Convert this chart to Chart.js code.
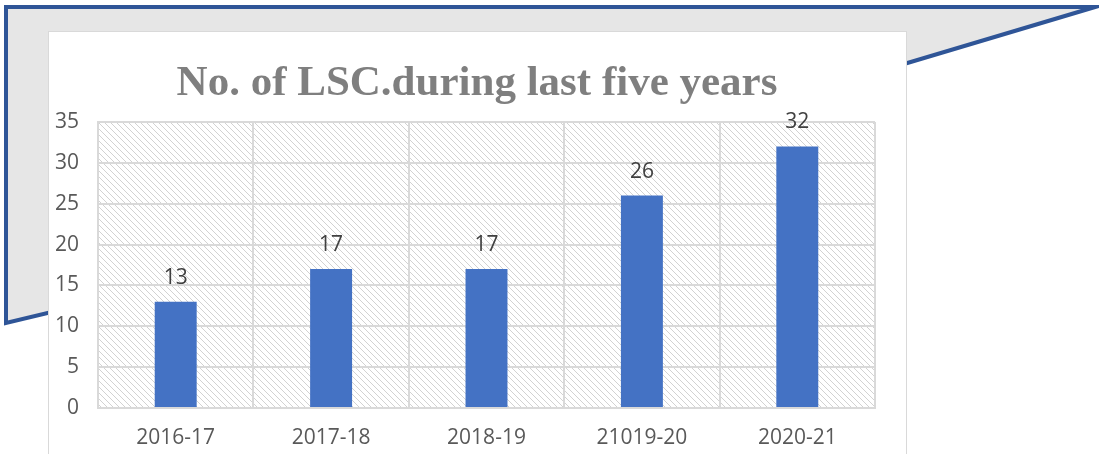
<!DOCTYPE html>
<html>
<head>
<meta charset="utf-8">
<script src="https://cdn.jsdelivr.net/npm/chart.js@4.4.0/dist/chart.umd.min.js"></script>
<style>
  html, body { margin: 0; padding: 0; background: #ffffff; }
  #wrap { position: relative; width: 1099px; height: 454px; }
</style>
</head>
<body>
<div id="wrap"><canvas id="grafica" width="1099" height="454"></canvas></div>
<script>
// datos del gráfico
const anios = ['2016-17', '2017-18', '2018-19', '21019-20', '2020-21'];
const cantidades = [13, 17, 17, 26, 32];
const titulo = 'No. of LSC.during last five years';
const ejeY = { min: 0, max: 35, paso: 5 };

// patrón de rayas diagonales para el fondo del área de trazado
function crearRayado() {
  const c = document.createElement('canvas');
  c.width = 6; c.height = 6;
  const g = c.getContext('2d');
  g.fillStyle = '#ffffff';
  g.fillRect(0, 0, 6, 6);
  g.fillStyle = '#d2d2d2';
  for (let i = 0; i < 6; i++) {
    g.fillRect(i, i, 1, 1);
  }
  return g.createPattern(c, 'repeat');
}

// fondo: banner gris con borde azul y caja blanca
const fondo = {
  id: 'fondo',
  beforeDraw(chart) {
    const ctx = chart.ctx;
    ctx.save();
    ctx.fillStyle = '#ffffff';
    ctx.fillRect(0, 0, chart.width, chart.height);

    ctx.beginPath();
    ctx.moveTo(6, 7);
    ctx.lineTo(1095, 7);
    ctx.lineTo(800, 95);
    ctx.lineTo(800, 300);
    ctx.lineTo(60, 310);
    ctx.lineTo(6, 323);
    ctx.closePath();
    ctx.fillStyle = '#e6e6e6';
    ctx.fill();
    ctx.lineWidth = 4;
    ctx.lineJoin = 'miter';
    ctx.strokeStyle = '#2f5597';
    ctx.stroke();

    ctx.fillStyle = '#ffffff';
    ctx.fillRect(48, 31, 859, 430);
    ctx.strokeStyle = '#d9d9d9';
    ctx.lineWidth = 1;
    ctx.strokeRect(48.5, 31.5, 858, 430);

    // título
    ctx.fillStyle = '#7f7f7f';
    ctx.font = 'bold 43px "Liberation Serif"';
    ctx.textAlign = 'center';
    ctx.textBaseline = 'alphabetic';
    ctx.fillText(titulo, 477, 95);

    // rayado del área de trazado
    const a = chart.chartArea;
    ctx.fillStyle = crearRayado();
    ctx.fillRect(a.left, a.top, a.right - a.left, a.bottom - a.top);
    ctx.restore();
  }
};

// etiquetas de valor encima de cada barra
const etiquetas = {
  id: 'etiquetas',
  afterDatasetsDraw(chart) {
    const ctx = chart.ctx;
    const meta = chart.getDatasetMeta(0);
    ctx.save();
    ctx.fillStyle = '#404040';
    ctx.font = '21px "Open Sans"';
    ctx.textAlign = 'center';
    ctx.textBaseline = 'middle';
    meta.data.forEach((barra, i) => {
      ctx.fillText(String(cantidades[i]), barra.x, barra.y - 24);
    });
    ctx.restore();
  }
};

const ctx = document.getElementById('grafica').getContext('2d');
new Chart(ctx, {
  type: 'bar',
  data: {
    labels: anios,
    datasets: [{
      label: 'LSC',
      data: cantidades,
      backgroundColor: '#4472c4',
      borderWidth: 0,
      barPercentage: 0.27,
      categoryPercentage: 1
    }]
  },
  options: {
    responsive: false,
    animation: false,
    layout: { padding: { left: 48, right: 224, top: 122, bottom: 0 } },
    plugins: {
      legend: { display: false },
      title: { display: false },
      tooltip: { enabled: false }
    },
    scales: {
      y: {
        min: ejeY.min,
        max: ejeY.max,
        afterFit(scale) { scale.width = 50; },
        ticks: {
          stepSize: ejeY.paso,
          padding: 19,
          color: '#595959',
          font: { family: '"Open Sans"', size: 21 }
        },
        grid: { color: '#d9d9d9', lineWidth: 2, drawTicks: false },
        border: { display: true, color: '#d9d9d9', width: 2 }
      },
      x: {
        afterFit(scale) { scale.height = 46; },
        ticks: {
          padding: 17,
          color: '#595959',
          font: { family: '"Open Sans"', size: 21 }
        },
        grid: { color: '#d9d9d9', lineWidth: 2, drawTicks: false, offset: true },
        border: { display: true, color: '#d9d9d9', width: 2 }
      }
    }
  },
  plugins: [fondo, etiquetas]
});
</script>
</body>
</html>
